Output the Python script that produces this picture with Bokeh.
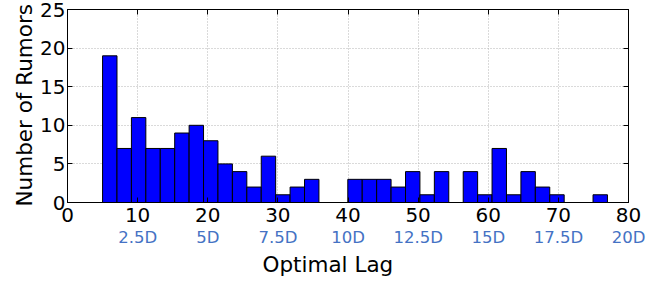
import numpy as np
from bokeh.plotting import figure
from bokeh.models import (LinearAxis, FixedTicker, Range1d, ColumnDataSource,
                          Grid, Title, CustomLabelingPolicy)
from bokeh.embed import file_html
from bokeh.resources import INLINE

# Histogram of optimal lag: 35 bins from 5 to 77
lag_min = 5.0
lag_max = 77.0
counts = [19, 7, 11, 7, 7, 9, 10, 8, 5, 4, 2, 6, 1, 2, 3, 0, 0,
          3, 3, 3, 2, 4, 1, 4, 0, 4, 1, 7, 1, 4, 2, 1, 0, 0, 1]
x_ticks = [0, 10, 20, 30, 40, 50, 60, 70, 80]
y_ticks = [0, 5, 10, 15, 20, 25]
day_ticks = [10, 20, 30, 40, 50, 60, 70, 80]
day_labels = ["2.5D", "5D", "7.5D", "10D", "12.5D", "15D", "17.5D", "20D"]

edges = np.linspace(lag_min, lag_max, len(counts) + 1)
src = ColumnDataSource(dict(left=edges[:-1], right=edges[1:],
                            top=counts, bottom=[0] * len(counts)))

FONT = "DejaVu Sans"
p = figure(frame_width=561, frame_height=193, output_backend="svg",
           toolbar_location=None,
           x_range=Range1d(0, 80), y_range=Range1d(0, 25),
           min_border_left=67, min_border_right=28, min_border_top=9,
           min_border_bottom=74, x_axis_location=None, y_axis_location=None)
p.background_fill_color = "white"
p.border_fill_color = "white"
p.outline_line_color = "black"
p.outline_line_width = 1
p.xgrid.visible = False
p.ygrid.visible = False

gx = Grid(dimension=0, ticker=FixedTicker(ticks=x_ticks[1:-1]),
          grid_line_color="#b4b4b4", grid_line_dash="1 2", grid_line_width=1)
gy = Grid(dimension=1, ticker=FixedTicker(ticks=y_ticks[1:-1]),
          grid_line_color="#b4b4b4", grid_line_dash="1 2", grid_line_width=1)
p.add_layout(gx)
p.add_layout(gy)

p.quad(left="left", right="right", top="top", bottom="bottom", source=src,
       fill_color="#0000ff", line_color="black", line_width=1)

def style_axis(ax, ticks, show_labels=True):
    ax.ticker = FixedTicker(ticks=ticks)
    ax.minor_tick_line_color = None
    ax.major_tick_in = 5
    ax.major_tick_out = 0
    ax.axis_line_color = "black"
    ax.major_tick_line_color = "black"
    if show_labels:
        ax.major_label_text_font = FONT
        ax.major_label_text_font_size = "20px"
        ax.major_label_text_color = "black"
    else:
        ax.major_label_text_font_size = "0px"
        ax.major_label_standoff = 0
        ax.major_label_policy = CustomLabelingPolicy(code="""
            for (const i of Array.from(indices)) { indices.unset(i) }
            return indices
        """)

xb = LinearAxis()
style_axis(xb, x_ticks)
xb.major_label_standoff = 5
p.add_layout(xb, "below")

xd = LinearAxis()
xd.ticker = FixedTicker(ticks=day_ticks)
xd.major_label_overrides = {t: l for t, l in zip(day_ticks, day_labels)}
xd.axis_line_color = None
xd.major_tick_line_color = None
xd.minor_tick_line_color = None
xd.major_tick_in = 0
xd.major_tick_out = 0
xd.major_label_standoff = 3
xd.major_label_text_font = FONT
xd.major_label_text_font_size = "16.5px"
xd.major_label_text_color = "#4472c4"
p.add_layout(xd, "below")

p.add_layout(Title(text="Optimal Lag", align="left", offset=195, standoff=0,
                   text_font=FONT, text_font_size="21.5px",
                   text_font_style="normal", text_color="black"), "below")

yl = LinearAxis()
style_axis(yl, y_ticks)
yl.major_label_standoff = 2
p.add_layout(yl, "left")

p.add_layout(Title(text="Number of Rumors", align="left", offset=-4,
                   standoff=2, text_font=FONT, text_font_size="21.5px",
                   text_font_style="normal", text_color="black"), "left")

xt = LinearAxis()
style_axis(xt, x_ticks, show_labels=False)
p.add_layout(xt, "above")

yr = LinearAxis()
style_axis(yr, y_ticks, show_labels=False)
p.add_layout(yr, "right")

with open("out.html", "w") as f:
    f.write(file_html(p, INLINE))
